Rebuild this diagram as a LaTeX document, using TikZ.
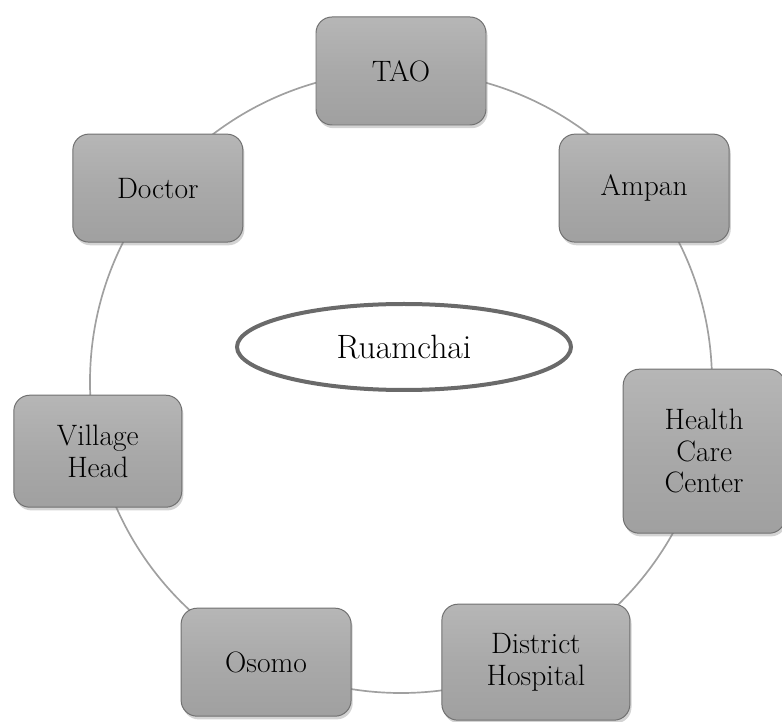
\documentclass[tikz,border=0pt]{standalone}
\usepackage{fontspec}
\usepackage{tikz}
\usetikzlibrary{shapes.geometric,shadows}
\definecolor{boxtop}{HTML}{B6B6B6}
\definecolor{boxmid}{HTML}{A9A9A9}
\definecolor{boxbot}{HTML}{A0A0A0}
\definecolor{boxedge}{HTML}{707070}
\definecolor{ringgray}{HTML}{A0A0A0}
\definecolor{ovalgray}{HTML}{6A6A6A}
\tikzset{
actor/.style={
  draw=boxedge, line width=0.7pt,
  rounded corners=0.4cm,
  top color=boxtop, bottom color=boxbot, middle color=boxmid,
  drop shadow={opacity=0.35, shadow xshift=0.04cm, shadow yshift=-0.08cm},
  minimum width=4.25cm, minimum height=2.7cm,
  align=center, inner sep=2pt,
  font=\fontsize{21}{22.5}\selectfont
  },
hub/.style={
  draw=ovalgray, line width=0.1cm,
  shape=ellipse, fill=white,
  minimum width=8.35cm, minimum height=2.15cm,
  font=\fontsize{24}{26}\selectfont
  }
}
\begin{document}
\begin{tikzpicture}
\def\R{7.775cm}
\useasboundingbox (-10.025,-8.5) rectangle (9.525,9.55);
% the ring
\coordinate (centre) at (0,0);
\draw[ringgray, line width=1.2pt] (centre) circle (\R);

% the shapes
\node[actor] at (90:\R) (tao) {TAO};
\node[actor] at (38.57:\R) (ampan) {Ampan};
\node[actor, minimum width=4.05cm, minimum height=4.1cm]
  at (-12.86:\R) (hcc) {Health\\Care\\Center};
\node[actor, minimum width=4.7cm, minimum height=2.9cm]
  at (-64.29:\R) (hospital) {District\\Hospital};
\node[actor] at (-115.71:\R) (osomo) {Osomo};
\node[actor, minimum width=4.2cm, minimum height=2.8cm]
  at (-167.14:\R) (head) {Village\\Head};
\node[actor] at (141.43:\R) (doctor) {Doctor};

\node[hub] at (0.075,0.875) (village) {Ruamchai};
\end{tikzpicture}
\end{document}
